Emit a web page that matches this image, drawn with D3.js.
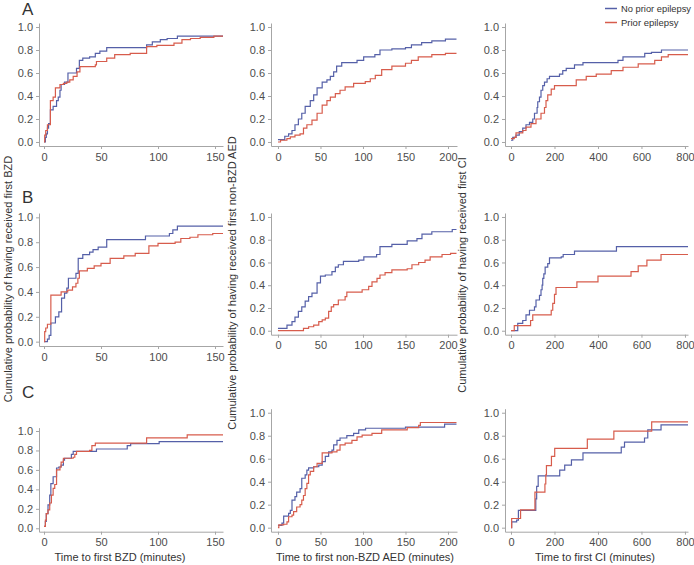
<!DOCTYPE html>
<html><head><meta charset="utf-8">
<script src="https://cdn.jsdelivr.net/npm/d3@7"></script>
<style>body{margin:0;background:#fff} svg{display:block} text{font-family:"Liberation Sans",Arial,sans-serif}</style>
</head><body><svg id="c" width="694" height="565"></svg>
<script>
const seriesNames = ["No prior epilepsy", "Prior epilepsy"];
const seriesColors = ["#5560a8", "#d75c4c"];
const rowLabels = ["A", "B", "C"];
const xTitles = ["Time to first BZD (minutes)", "Time to first non-BZD AED (minutes)", "Time to first CI (minutes)"];
const yTitles = ["Cumulative probability of having received first BZD",
  "Cumulative probability of having received first non-BZD AED",
  "Cumulative probability of having received first CI"];
const xTicks = [[0, 50, 100, 150], [0, 50, 100, 150, 200], [0, 200, 400, 600, 800]];
const yTicks = [0, 0.2, 0.4, 0.6, 0.8, 1.0];

// Row A
const bzdA_no = [[0,0],[1.2,0.04],[2,0.07],[3,0.12],[4,0.16],[5.6,0.28],[8,0.31],[11,0.36],[12.5,0.39],[14,0.45],[15,0.5],[18,0.52],[21,0.6],[28.5,0.64],[31,0.71],[34,0.73],[40,0.74],[45,0.77],[49,0.79],[55,0.82],[90,0.845],[95,0.87],[102,0.89],[108,0.9],[117,0.92],[157,0.92]];
const bzdA_prior = [[0,0],[0.6,0.06],[1.5,0.1],[3,0.15],[5.6,0.36],[8,0.39],[10,0.47],[14,0.5],[17,0.51],[20,0.52],[22.6,0.54],[25.6,0.57],[29,0.61],[31.5,0.655],[45,0.67],[46,0.7],[55,0.73],[62,0.76],[75.6,0.77],[90,0.83],[99,0.84],[114,0.86],[121,0.89],[128.5,0.9],[137,0.91],[149,0.92],[157,0.92]];
const aedA_no = [[0,0.02],[8,0.05],[12.5,0.07],[16.5,0.1],[20,0.15],[24,0.2],[28,0.25],[32,0.31],[38,0.36],[42,0.41],[46,0.47],[52,0.52],[57.6,0.54],[61.6,0.57],[65.5,0.61],[69,0.66],[75,0.69],[93,0.71],[100.8,0.74],[114,0.76],[120,0.8],[134,0.81],[150,0.82],[157,0.845],[169,0.865],[181,0.88],[197,0.895],[210,0.895]];
const aedA_prior = [[0,0],[3,0.015],[10.5,0.03],[14.5,0.045],[20,0.06],[26,0.07],[30,0.12],[34,0.15],[40,0.19],[46,0.25],[52,0.32],[57.6,0.36],[61.6,0.39],[67.5,0.42],[73,0.45],[79,0.48],[89,0.51],[102.7,0.525],[108.6,0.55],[114.5,0.58],[122,0.63],[134,0.66],[150,0.685],[157,0.71],[165,0.74],[181,0.76],[197,0.77],[210,0.77]];
const ciA_no = [[0,0.015],[8,0.04],[23,0.06],[38,0.09],[54,0.12],[69,0.15],[85,0.17],[100,0.2],[108,0.25],[120,0.3],[123,0.35],[131,0.39],[138,0.45],[146,0.49],[154,0.52],[166,0.55],[177,0.57],[223,0.59],[238,0.62],[254,0.64],[292,0.67],[331,0.69],[492,0.71],[515,0.74],[615,0.77],[646,0.78],[692,0.8],[814,0.8]];
const ciA_prior = [[0,0.03],[15,0.04],[23,0.08],[54,0.1],[69,0.13],[92,0.16],[115,0.2],[138,0.25],[154,0.3],[161,0.36],[169,0.41],[185,0.46],[200,0.49],[300,0.54],[346,0.57],[392,0.59],[461,0.62],[515,0.65],[585,0.68],[661,0.71],[692,0.74],[723,0.76],[814,0.76]];

// Row B
const bzdB_no = [[0,0],[3,0.02],[4.5,0.05],[6,0.15],[10,0.2],[13,0.24],[15.4,0.35],[18,0.39],[20,0.43],[21.4,0.51],[28,0.55],[30,0.67],[34,0.7],[40,0.72],[43,0.74],[47.5,0.76],[55,0.82],[89,0.85],[110,0.87],[113,0.9],[117,0.93],[157,0.93]];
const bzdB_prior = [[0,0],[0.6,0.08],[1.5,0.11],[3,0.14],[6,0.375],[15,0.4],[20.8,0.415],[25,0.44],[28,0.47],[29.7,0.51],[31,0.57],[38,0.59],[44,0.61],[50,0.63],[58,0.67],[70,0.69],[80,0.71],[92,0.77],[100,0.79],[115,0.8],[120,0.83],[128,0.84],[135,0.86],[148,0.87],[157,0.87]];
const aedB_no = [[0,0.02],[10.6,0.05],[16.5,0.08],[20,0.12],[24,0.17],[28,0.21],[32,0.26],[36,0.3],[40,0.33],[46,0.42],[50,0.48],[55.7,0.49],[63.5,0.52],[67.5,0.56],[71,0.58],[77,0.61],[95,0.62],[101,0.65],[116,0.67],[120,0.74],[134,0.76],[152,0.79],[163.5,0.81],[169.4,0.85],[181,0.87],[205,0.89],[210,0.89]];
const aedB_prior = [[0,0],[30,0.02],[36,0.035],[42,0.05],[48,0.08],[52,0.095],[55.7,0.11],[59.6,0.17],[62.7,0.21],[65.5,0.23],[71,0.27],[79,0.3],[81,0.34],[99,0.36],[106.7,0.39],[110.6,0.43],[116.5,0.46],[120,0.49],[126,0.51],[134,0.535],[152,0.545],[157.6,0.58],[165.5,0.6],[173,0.62],[179,0.65],[193,0.67],[203,0.68],[210,0.68]];
const ciB_no = [[0,0],[31,0.065],[54,0.09],[69,0.14],[85,0.18],[108,0.21],[115,0.27],[131,0.31],[138,0.36],[143,0.4],[146,0.46],[151,0.5],[157,0.56],[169,0.59],[177,0.64],[231,0.65],[240,0.67],[292,0.7],[485,0.74],[814,0.74]];
const ciB_prior = [[0,0],[15,0.045],[90,0.09],[100,0.14],[185,0.18],[192,0.24],[200,0.32],[207,0.38],[303,0.43],[400,0.48],[552,0.52],[585,0.57],[625,0.62],[690,0.67],[814,0.67]];

// Row C
const bzdC_no = [[0,0.02],[1.2,0.07],[2,0.15],[3.5,0.24],[5,0.34],[6,0.46],[8,0.53],[11,0.62],[13,0.63],[15,0.65],[17,0.7],[18,0.72],[24,0.76],[25.6,0.79],[46,0.815],[73,0.85],[76,0.87],[101,0.89],[157,0.89]];
const bzdC_prior = [[0,0.02],[1.2,0.085],[2,0.15],[3.5,0.19],[5,0.26],[6.5,0.34],[8,0.41],[9.4,0.45],[11,0.6],[14,0.63],[15,0.68],[17,0.72],[25.6,0.73],[27,0.76],[28.5,0.79],[40,0.8],[42,0.85],[45,0.875],[90,0.93],[125.6,0.96],[157,0.96]];
const aedC_no = [[0,0.02],[4.7,0.04],[6.7,0.1],[12.5,0.125],[14.5,0.15],[16.5,0.24],[20,0.27],[22,0.31],[26,0.34],[28,0.43],[32,0.46],[34,0.5],[36,0.52],[42,0.53],[48,0.545],[52,0.575],[55.7,0.62],[59.6,0.66],[63.5,0.675],[65.5,0.72],[69.4,0.76],[73,0.78],[81,0.8],[89,0.82],[95,0.85],[103,0.865],[150,0.875],[196,0.9],[210,0.9]];
const aedC_prior = [[0,0],[1,0.025],[6.7,0.03],[10.6,0.05],[12.5,0.095],[16.5,0.11],[18.4,0.14],[22,0.18],[26,0.2],[28,0.24],[30,0.28],[32,0.34],[34,0.385],[36,0.46],[38,0.49],[42,0.53],[46,0.56],[52,0.65],[63.5,0.66],[69.4,0.675],[73,0.72],[79,0.735],[87,0.76],[93,0.79],[99,0.805],[110.6,0.82],[122,0.85],[152,0.87],[165.5,0.89],[167.5,0.915],[210,0.915]];
const ciC_no = [[0,0],[3,0.05],[26,0.065],[34,0.15],[114,0.25],[118,0.36],[125,0.45],[224,0.5],[247,0.545],[278,0.59],[331,0.65],[507,0.7],[522,0.745],[614,0.78],[629,0.85],[690,0.895],[814,0.895]];
const ciC_prior = [[0,0],[3,0.08],[44,0.155],[110,0.31],[156,0.38],[160,0.46],[163,0.54],[186,0.62],[201,0.69],[351,0.77],[473,0.84],[647,0.92],[814,0.92]];

const panelData = [
  [[bzdA_no, bzdA_prior], [aedA_no, aedA_prior], [ciA_no, ciA_prior]],
  [[bzdB_no, bzdB_prior], [aedB_no, aedB_prior], [ciB_no, ciB_prior]],
  [[bzdC_no, bzdC_prior], [aedC_no, aedC_prior], [ciC_no, ciC_prior]]
];

// layout
const cols = [
  {l: 39, r: 223, lo: -4.4, hi: 157},
  {l: 271, r: 457, lo: -8.2, hi: 210.6},
  {l: 505, r: 688, lo: -27.6, hi: 814}
];
const rowsY = [
  [[146, 23], [146, 23], [146, 23]],
  [[346, 213], [334.7, 213], [334.7, 213]],
  [[531.7, 427.6], [531.7, 408.7], [531.7, 408.7]]
];
const axisColor = "#a6a6a6", tickTextColor = "#4d4d4d";
const svg = d3.select("#c");

function styleAxis(g) {
  g.select(".domain").attr("stroke", axisColor).attr("stroke-width", 1);
  g.selectAll(".tick line").attr("stroke", axisColor);
  g.selectAll(".tick text").attr("fill", tickTextColor).attr("font-size", 11)
    .attr("font-family", "Liberation Sans, Arial, sans-serif");
}

for (let r = 0; r < 3; r++) {
  for (let c = 0; c < 3; c++) {
    const col = cols[c];
    const [yb, yt] = rowsY[r][c];
    const x = d3.scaleLinear().domain([col.lo, col.hi]).range([col.l, col.r]);
    const y = d3.scaleLinear().domain([-0.035, 1.035]).range([yb, yt]);
    const g = svg.append("g");
    g.append("g").attr("transform", `translate(0,${yb})`)
      .call(d3.axisBottom(x).tickValues(xTicks[c]).tickFormat(d3.format("d")).tickSize(3).tickSizeOuter(0).tickPadding(4))
      .call(styleAxis);
    g.append("g").attr("transform", `translate(${col.l},0)`)
      .call(d3.axisLeft(y).tickValues(yTicks).tickFormat(d3.format(".1f")).tickSize(3).tickSizeOuter(0).tickPadding(3))
      .call(styleAxis);
    const line = d3.line().x(d => x(d[0])).y(d => y(d[1])).curve(d3.curveStepAfter);
    panelData[r][c].forEach((s, i) => {
      g.append("path").datum(s).attr("d", line).attr("fill", "none")
        .attr("stroke", seriesColors[i]).attr("stroke-width", 1.2);
    });
  }
}

// row letters
const letterPos = [[22, 15], [22, 203], [22, 398]];
rowLabels.forEach((t, i) => {
  svg.append("text").attr("x", letterPos[i][0]).attr("y", letterPos[i][1])
    .attr("font-size", 17).attr("fill", "#333").text(t);
});

// y titles
const yTitlePos = [[12, 279], [236, 283], [466, 275]];
yTitles.forEach((t, i) => {
  svg.append("text").attr("transform", `translate(${yTitlePos[i][0]},${yTitlePos[i][1]}) rotate(-90)`)
    .attr("text-anchor", "middle").attr("font-size", 11).attr("fill", "#333").text(t);
});
// x titles
const xTitleX = [120, 365, 595];
xTitles.forEach((t, i) => {
  svg.append("text").attr("x", xTitleX[i]).attr("y", 561).attr("text-anchor", "middle")
    .attr("font-size", 11).attr("fill", "#333").text(t);
});

// legend
seriesNames.forEach((n, i) => {
  const yy = 8.5 + i * 14;
  svg.append("line").attr("x1", 605).attr("x2", 617).attr("y1", yy).attr("y2", yy)
    .attr("stroke", seriesColors[i]).attr("stroke-width", 1.5);
  svg.append("text").attr("x", 621).attr("y", yy + 3.5).attr("font-size", 9.5)
    .attr("textLength", i === 0 ? 70 : null).attr("lengthAdjust", "spacingAndGlyphs")
    .attr("fill", "#333").text(n);
});
</script></body></html>
